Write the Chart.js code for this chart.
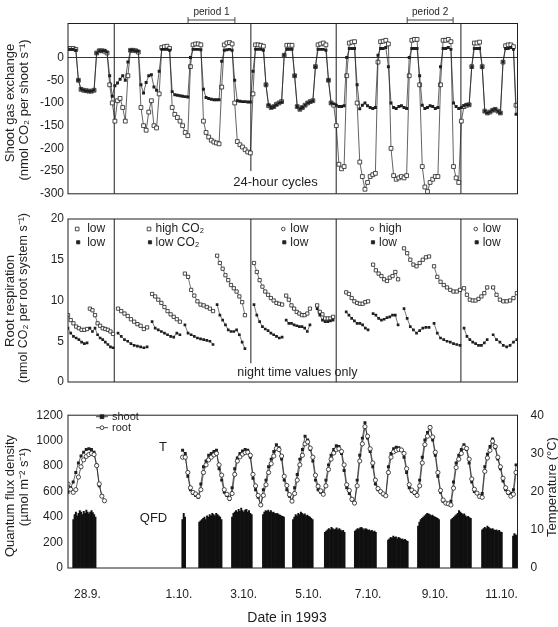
<!DOCTYPE html>
<html>
<head>
<meta charset="utf-8">
<script src="https://cdn.jsdelivr.net/npm/chart.js@4.4.1/dist/chart.umd.min.js"></script>
<style>
  html, body { margin: 0; padding: 0; background: #fff; }
  #wrap { position: relative; width: 558px; height: 627px; }
  #wrap canvas { position: absolute; left: 0; }
</style>
</head>
<body>
<div id="wrap">
  <canvas id="gas" width="558" height="205" style="top:0"></canvas>
  <canvas id="root" width="558" height="190" style="top:205px"></canvas>
  <canvas id="clim" width="558" height="232" style="top:395px"></canvas>
</div>
<script>
// time = days since 28.9. 0:00, readings every 2 hours (one row = one day)
const STEP = 1 / 12;

// shoot gas exchange, filled squares
const shootControl = [
  18, 18, 18, 16, -50, -70, -72, -73, -74, -74, -72, 10,
  15, 15, 15, 12, -40, -85, -62, -56, -48, -40, -50, -10,
  16, 16, 15, 14, -60, -78, -55, -40, -38, -65, -72, -30,
  18, 18, 18, 16, -75, -82, -83, -84, -85, -86, -87, 0,
  18, 18, 18, 17, -70, -88, -90, -92, -93, -93, -93, -8,
  16, 17, 18, 16, -50, -95, -96, -97, -97, -98, -98, -30,
  18, 18, 18, 16, -60, -105, -110, -108, -104, -100, -98, 5,
  18, 18, 18, -40, -108, -114, -110, -105, -100, -97, -95, -20,
  18, 18, 18, 16, -50, -100, -102, -105, -108, -108, -106, 0,
  20, 20, 20, -60, -113, -105, -100, -106, -110, -112, -110, 5,
  20, 20, 22, -20, -100, -110, -112, -108, -106, -110, -112, 0,
  20, 20, 20, -40, -105, -112, -110, -106, -108, -112, -110, -20,
  20, 20, 22, 18, -100, -108, -112, -110, -106, -104, -104, -20,
  20, 20, 20, -20, -118, -122, -120, -116, -114, -118, -122, -10,
  20, 20, 22, 18, -125
];

// shoot gas exchange, open squares
const shootTreat = [
  20, 20, 20, 18, -50, -70, -72, -73, -74, -74, -72, 10,
  15, 15, 14, 10, -60, -100, -140, -95, -90, -110, -140, -40,
  16, 16, 15, 12, -110, -150, -160, -120, -95, -150, -155, -80,
  22, 24, 25, 20, -110, -125, -132, -140, -150, -165, -172, -20,
  28, 30, 30, 28, -140, -165, -175, -182, -186, -188, -190, -65,
  28, 32, 33, 30, -100, -185, -192, -197, -203, -208, -210, -80,
  28, 28, 27, 25, -60, -106, -110, -108, -103, -100, -97, 5,
  27, 27, 27, -40, -108, -114, -110, -105, -100, -97, -95, -20,
  28, 30, 32, 28, -50, -100, -105, -150, -235, -245, -240, -40,
  32, 34, 35, -100, -230, -262, -290, -275, -262, -258, -255, -10,
  35, 36, 38, 30, -200, -260, -268, -265, -262, -265, -260, -40,
  38, 40, 40, -60, -240, -285, -295, -275, -268, -262, -262, -60,
  38, 38, 40, 35, -240, -265, -275, -140, -108, -105, -104, -20,
  32, 32, 34, -20, -118, -122, -120, -116, -114, -118, -122, -10,
  26, 28, 28, 24, -105
];

// temperature (°C), root = open circles, shoot = filled squares
const tempRoot = [
  22.0, 20.6, 19.8, 20.5, 23.8, 26.5, 28.3, 29.2, 29.7, 30.0, 29.7, 26.8,
  22.0, 18.8, 17.6, null, null, null, null, null, null, null, null, null,
  null, null, null, null, null, null, null, null, null, null, null, null,
  null, null, null, null, null, null, null, null, 29.0, 29.0, 25.0, 21.0,
  19.8, 19.4, 18.8, 20.5, 25.0, 27.0, 28.3, 29.0, 29.6, 30.0, 27.0, 24.3,
  20.5, 19.3, 18.2, 19.5, 24.5, 28.0, 29.1, 29.8, 30.2, 30.3, 29.5, 24.5,
  21.5, 19.0, 16.5, 19.0, 21.8, 25.0, 27.3, 29.3, 31.3, 31.0, 29.3, 24.0,
  21.6, 19.2, 17.5, 19.5, 23.0, 27.0, 29.5, 32.5, 33.0, 31.4, 29.0, 24.3,
  21.4, 20.2, 19.3, 21.5, 25.8, 28.5, 30.1, 31.0, 31.2, 30.5, 27.0, 21.8,
  20.3, 18.0, 17.0, 21.5, 28.0, 32.5, 37.0, 34.5, 31.2, 27.5, 23.0, 20.8,
  20.0, 19.4, 18.9, 25.0, 29.0, 30.4, 30.8, 31.0, 30.9, 30.0, 26.0, 21.8,
  20.4, 19.8, 19.0, 21.5, 27.5, 32.3, 34.5, 36.8, 34.3, 30.3, 25.0, 20.3,
  17.8, 17.0, 16.8, 16.5, 20.9, 26.3, 28.5, 30.0, 31.6, 31.3, 28.5, 23.3,
  20.6, 19.6, 18.7, 18.5, 25.3, 28.8, 30.8, 33.2, 31.8, 29.0, 26.5, 23.5,
  21.0, 19.8, 18.8, 19.3, 25.0
];
const tempShoot = [
  19.8, 21.0, 22.5, 25.0, 27.5, 29.3, 30.3, 31.0, 31.2, 31.0, 30.3, 27.0,
  21.5, 19.0, null, null, null, null, null, null, null, null, null, null,
  null, null, null, null, null, null, null, null, null, null, null, null,
  null, null, null, null, null, null, null, null, 30.8, 30.0, 24.0, 20.5,
  19.5, 19.0, 18.5, 22.0, 26.5, 28.0, 29.5, 30.0, 30.5, 30.8, 26.0, 23.0,
  19.8, 19.0, 18.0, 21.0, 26.0, 28.8, 30.0, 30.6, 31.0, 30.8, 29.0, 23.5,
  20.5, 18.5, 16.5, 20.5, 23.0, 26.5, 28.5, 30.5, 32.3, 31.5, 28.5, 23.0,
  20.5, 18.8, 17.5, 21.0, 24.5, 28.5, 31.0, 34.5, 33.5, 31.0, 28.0, 23.0,
  20.5, 19.8, 19.5, 23.0, 27.0, 29.5, 31.0, 32.0, 31.8, 30.0, 25.5, 21.0,
  19.5, 17.8, 17.0, 23.0, 29.5, 34.0, 38.0, 34.0, 30.5, 26.5, 22.0, 20.5,
  19.8, 19.2, 19.0, 26.5, 30.0, 31.2, 31.6, 31.5, 31.0, 29.0, 25.0, 21.0,
  20.0, 19.5, 19.0, 23.0, 29.0, 33.5, 35.5, 37.0, 33.5, 29.5, 24.0, 19.8,
  17.5, 17.0, 16.8, 17.5, 22.5, 27.5, 29.5, 31.0, 32.3, 31.0, 27.5, 22.5,
  20.0, 19.5, 18.8, 19.5, 26.5, 29.8, 31.8, 33.8, 31.5, 28.5, 26.0, 22.8,
  20.5, 19.5, 19.5, 20.5, 27.0
];

// root respiration, one night segment per row (start / end in days)
const rootSegStart = [0.00, 0.70, 1.60, 2.69, 3.74, 4.77, 5.95, 6.98, 7.97, 8.90, 9.76, 10.75, 11.71, 12.67, 13.60];
const rootSegEnd   = [0.61, 1.44, 2.53, 3.58, 4.64, 5.66, 6.85, 7.74, 8.48, 9.60, 10.56, 11.55, 12.54, 13.41, 14.36];
const rootHigh = [
  [8.2, 7.6, 7.2, 6.8, 6.6, 6.4, 6.4, 6.5],
  [9.0, 8.8, 8.2, 7.2, 6.9, 6.6, 6.5, 6.4, 6.2, 5.9],
  [9.0, 8.7, 8.4, 8.1, 7.7, 7.4, 7.1, 6.9, 6.5, 6.7],
  [10.8, 10.5, 10.1, 9.7, 9.2, 8.7, 8.3, 8.0, 7.7, 7.4],
  [13.3, 12.9, 11.3, 10.6, 9.9, 9.5, 9.4, 9.2, 9.0, 8.7],
  [15.5, 14.6, 13.9, 13.1, 12.5, 11.9, 11.5, 11.1, 10.5, 9.8, 8.2],
  [14.6, 13.5, 12.5, 11.7, 11.1, 10.7, 10.3, 10.0, 9.7, 9.6, 9.5],
  [10.6, 10.1, 9.4, 9.0, 8.6, 8.4, 8.2, 8.2, 8.4, 9.0],
  [9.4, 8.6, 8.3, 7.8, 7.8, 7.8, 8.0],
  [11.0, 10.8, 10.3, 9.9, 9.7, 9.6, 9.6, 9.8, 9.9],
  [14.4, 13.7, 13.3, 13.0, 12.6, 12.4, 12.8, 13.0, 13.5, 12.6],
  [16.4, 15.8, 15.0, 14.4, 14.2, 14.6, 15.0, 15.3, 15.4],
  [14.2, 12.9, 12.3, 11.9, 11.6, 11.3, 11.1, 11.1, 11.3],
  [11.5, 10.7, 10.1, 10.0, 10.0, 10.2, 10.5, 10.9, 11.6],
  [11.6, 10.7, 10.1, 9.9, 9.9, 10.0, 10.3, 10.9]
];
const rootLow = [
  [6.6, 6.0, 5.6, 5.4, 5.2, 4.9, 4.7, 4.8],
  [6.6, 6.2, 6.6, 5.8, 5.4, 5.2, 4.9, 4.6, 4.3, 4.2],
  [6.0, 5.6, 5.2, 5.0, 4.7, 4.5, 4.4, 4.3, 4.2, 4.3],
  [7.4, 6.6, 6.4, 6.2, 6.0, 5.8, 5.6, 5.5, 6.0, 5.8],
  [7.0, 6.0, 5.8, 5.6, 5.4, 5.3, 5.2, 5.1, 5.0, 4.6],
  [9.5, 8.2, 7.6, 7.0, 6.4, 6.2, 6.2, 6.4, 5.8, 4.9, 4.1],
  [9.5, 8.2, 7.4, 6.8, 6.5, 6.3, 6.0, 5.8, 5.6, 5.4, 5.5],
  [7.6, 7.2, 7.2, 7.0, 6.9, 6.8, 6.8, 6.6, 6.2, 7.0],
  [9.0, 8.2, 7.6, 7.4, 7.4, 7.5, 7.6],
  [8.6, 8.2, 7.8, 7.5, 7.2, 7.2, 7.0, 6.6, 6.4],
  [8.4, 8.2, 7.8, 7.6, 7.7, 7.9, 8.0, 8.2, 8.2, 7.0],
  [9.0, 7.8, 6.8, 6.4, 6.0, 6.3, 6.6, 6.7, 6.7],
  [7.2, 6.0, 5.4, 5.2, 5.0, 4.9, 4.7, 4.6, 4.5],
  [6.6, 5.6, 5.2, 4.9, 4.7, 4.5, 4.5, 4.8, 5.2],
  [5.8, 5.2, 4.9, 4.5, 4.3, 4.5, 4.9, 5.2]
];

// quantum flux density, hourly values for each light period
const qfdStart = [0.17, 3.66, 4.20, 5.25, 6.24, 7.20, 8.22, 9.18, 10.24, 11.20, 12.26, 13.25, 14.24];
const qfdValues = [
  [380, 420, 440, 410, 430, 450, 440, 420, 445, 430, 455, 440, 425, 440, 450, 435, 420, 400],
  [380, 430, 400],
  [360, 370, 380, 390, 400, 380, 410, 400, 420, 410, 430, 420, 410, 430, 420, 410, 400, 380],
  [400, 430, 440, 450, 440, 460, 445, 470, 450, 440, 455, 460, 440, 450, 430, 420],
  [420, 440, 450, 445, 455, 440, 450, 435, 440, 430, 425, 430, 420, 415, 410, 405, 400],
  [380, 400, 420, 410, 430, 420, 440, 430, 420, 425, 410, 415, 405, 400, 390, 380],
  [280, 290, 300, 310, 300, 320, 310, 300, 305, 315, 300, 310, 300, 290, 295, 280],
  [290, 300, 310, 305, 315, 320, 310, 300, 310, 305, 295, 300, 290, 295, 285, 290, 280],
  [220, 230, 240, 235, 250, 240, 245, 230, 240, 235, 225, 230, 220, 225, 215, 210],
  [330, 360, 380, 390, 400, 410, 420, 430, 425, 420, 410, 415, 405, 400, 395, 390, 380],
  [380, 390, 400, 410, 420, 430, 450, 440, 430, 420, 425, 410, 400, 405, 395, 390],
  [300, 310, 320, 310, 330, 320, 310, 305, 310, 300, 295, 300, 290, 295, 285, 280],
  [250, 270, 260, 255]
];

// treatment changes and marked periods
const separators = [1.48, 5.85, 8.58, 12.57];
const periodRanges = [[3.84, 5.34], [10.85, 12.32]];
const periodNames = ['period 1', 'period 2'];

const dateTicks = [0.62, 3.55, 5.62, 7.7, 9.6, 11.74, 13.87];
const dateLabels = ['28.9.', '1.10.', '3.10.', '5.10.', '7.10.', '9.10.', '11.10.'];

const INK = '#1f1f1f';
const FONT = '"Liberation Sans", Arial, sans-serif';
const X_MAX = 14.38;

const onGrid = vals => vals.map((v, i) => ({ x: i * STEP, y: v }));

function nightSegments(rows) {
  const pts = [];
  rows.forEach((vals, s) => {
    const a = rootSegStart[s], b = rootSegEnd[s];
    vals.forEach((v, k) => pts.push({ x: a + (b - a) * k / (vals.length - 1), y: v }));
    pts.push({ x: b + 0.02, y: null });
  });
  return pts;
}

function hourly(starts, rows) {
  const pts = [];
  rows.forEach((vals, p) => vals.forEach((v, k) => pts.push({ x: starts[p] + k / 24, y: v })));
  return pts;
}

// vertical lines at treatment changes; the one at index 1 stops short of the note text
function sepLines(lo, hi, cut) {
  const pts = [];
  separators.forEach((s, i) => {
    pts.push({ x: s, y: i === 1 ? cut : lo }, { x: s, y: hi }, { x: s, y: null });
  });
  return pts;
}

function label(ctx, str, x, y, size, rot, align) {
  ctx.save();
  ctx.translate(x, y);
  if (rot) ctx.rotate(rot);
  ctx.font = size + 'px ' + FONT;
  ctx.fillStyle = INK;
  ctx.textAlign = align || 'center';
  ctx.textBaseline = 'middle';
  ctx.fillText(str, 0, 0);
  ctx.restore();
}

function marker(ctx, x, y, side, filled, round) {
  ctx.save();
  ctx.strokeStyle = INK;
  ctx.fillStyle = filled ? INK : '#fff';
  ctx.lineWidth = 0.8;
  ctx.beginPath();
  if (round) ctx.arc(x, y, side / 2, 0, Math.PI * 2);
  else ctx.rect(x - side / 2, y - side / 2, side, side);
  ctx.fill();
  ctx.stroke();
  ctx.restore();
}

Chart.register({
  id: 'frame',
  afterDatasetsDraw(chart) {
    const { ctx, chartArea: a } = chart;
    ctx.save();
    ctx.strokeStyle = INK;
    ctx.lineWidth = 1;
    ctx.strokeRect(a.left, a.top, a.right - a.left, a.bottom - a.top);
    ctx.restore();
  }
});

const tickFont = { family: FONT, size: 12 };
const plain = v => String(v);

function timeAxis(extra) {
  return Object.assign({
    type: 'linear', min: 0, max: X_MAX, offset: false, display: false,
    grid: { display: false, offset: false }
  }, extra);
}

function leftAxis(min, max, step, extra) {
  return Object.assign({
    min, max,
    ticks: { stepSize: step, padding: 4, font: tickFont, color: INK, callback: plain },
    grid: { display: false, drawTicks: false },
    border: { display: false },
    afterFit: s => { s.width = 68; }
  }, extra);
}

function base(padding) {
  return {
    responsive: false,
    animation: false,
    devicePixelRatio: 1,
    events: [],
    layout: { padding },
    plugins: { legend: { display: false }, tooltip: { enabled: false } }
  };
}

const lineStyle = { borderColor: INK, borderWidth: 0.7, tension: 0, spanGaps: false, pointBorderColor: INK };
const sepStyle = { borderColor: INK, borderWidth: 1, pointRadius: 0, spanGaps: false };
const TITLE = 13;

// ---------- shoot gas exchange ----------
new Chart(document.getElementById('gas'), {
  type: 'line',
  data: {
    datasets: [
      Object.assign({ data: onGrid(shootControl), pointStyle: 'rect', pointRadius: 2.1,
        pointBackgroundColor: INK, pointBorderWidth: 0 }, lineStyle),
      Object.assign({ data: onGrid(shootTreat), pointStyle: 'rect', pointRadius: 2.7,
        pointBackgroundColor: '#fff', pointBorderWidth: 0.8 }, lineStyle),
      Object.assign({ data: sepLines(-300, 75, -250) }, sepStyle)
    ]
  },
  options: Object.assign(base({ top: 23.5, bottom: 9, left: 0, right: 40.5 }), {
    scales: {
      x: timeAxis(),
      y: leftAxis(-300, 75, 50, {
        afterBuildTicks: s => { s.ticks = s.ticks.filter(t => t.value % 50 === 0); },
        grid: {
          drawTicks: false, lineWidth: 0.9,
          color: c => (c.tick && c.tick.value === 0) ? INK : 'rgba(0,0,0,0)'
        }
      })
    }
  }),
  plugins: [{
    id: 'gasNotes',
    afterDraw(chart) {
      const { ctx, scales: { x, y } } = chart;
      periodRanges.forEach(([t0, t1], i) => {
        const x0 = x.getPixelForValue(t0), x1 = x.getPixelForValue(t1);
        ctx.save();
        ctx.strokeStyle = INK;
        ctx.lineWidth = 0.8;
        ctx.beginPath();
        ctx.moveTo(x0, 20); ctx.lineTo(x1, 20);
        ctx.moveTo(x0, 17); ctx.lineTo(x0, 23);
        ctx.moveTo(x1, 17); ctx.lineTo(x1, 23);
        ctx.stroke();
        ctx.restore();
        label(ctx, periodNames[i], (x0 + x1) / 2, 12.5, 10);
      });
      label(ctx, '24-hour cycles', x.getPixelForValue(6.64), y.getPixelForValue(-276), 13);
      label(ctx, 'Shoot gas exchange', 10, 103, TITLE, -Math.PI / 2);
      label(ctx, '(nmol CO\u2082 per shoot s\u207B\u00B9)', 24, 110, TITLE, -Math.PI / 2);
    }
  }]
});

// ---------- root respiration ----------
new Chart(document.getElementById('root'), {
  type: 'line',
  data: {
    datasets: [
      Object.assign({ data: nightSegments(rootLow), pointStyle: 'rect', pointRadius: 1.9,
        pointBackgroundColor: INK, pointBorderWidth: 0 }, lineStyle, { borderWidth: 0.6 }),
      Object.assign({ data: nightSegments(rootHigh), pointStyle: 'rect', pointRadius: 2.3,
        pointBackgroundColor: '#fff', pointBorderWidth: 0.8 }, lineStyle, { borderWidth: 0.6 }),
      Object.assign({ data: sepLines(0, 20, 2.3) }, sepStyle)
    ]
  },
  options: Object.assign(base({ top: 14, bottom: 13, left: 0, right: 40.5 }), {
    scales: { x: timeAxis(), y: leftAxis(0, 20, 5) }
  }),
  plugins: [{
    id: 'rootNotes',
    afterDraw(chart) {
      const { ctx, scales: { x, y } } = chart;
      const keys = [
        [77.2, 10, 'low', 'low', false],
        [149, 6.5, 'high CO\u2082', 'low CO\u2082', false],
        [283.3, 7, 'low', 'low', true],
        [372, 7, 'high', 'low', true],
        [475.7, 7, 'low', 'low', true]
      ];
      keys.forEach(([mx, gap, hi, lo, round]) => {
        marker(ctx, mx, 24, 3.6, false, round);
        marker(ctx, mx + 1, 37.3, 3.2, true, false);
        label(ctx, hi, mx + gap, 24, 12, 0, 'left');
        label(ctx, lo, mx + gap, 37.5, 12, 0, 'left');
      });
      label(ctx, 'night time values only', x.getPixelForValue(7.34), y.getPixelForValue(1.1), 12.5);
      label(ctx, 'Root respiration', 10, 96, TITLE, -Math.PI / 2);
      label(ctx, '(nmol CO\u2082 per root system s\u207B\u00B9)', 24, 93, 12.5, -Math.PI / 2);
    }
  }]
});

// ---------- light and temperature ----------
new Chart(document.getElementById('clim'), {
  type: 'line',
  data: {
    datasets: [
      Object.assign({ data: onGrid(tempRoot), yAxisID: 'y1', pointStyle: 'circle', pointRadius: 2.1,
        pointBackgroundColor: '#fff', pointBorderWidth: 0.8, order: 1 }, lineStyle),
      Object.assign({ data: onGrid(tempShoot), yAxisID: 'y1', pointStyle: 'rect', pointRadius: 2.1,
        pointBackgroundColor: INK, pointBorderWidth: 0, order: 2 }, lineStyle),
      { type: 'bar', data: hourly(qfdStart, qfdValues), yAxisID: 'y', backgroundColor: '#101010',
        barPercentage: 1, categoryPercentage: 1, order: 3 }
    ]
  },
  options: Object.assign(base({ top: 11, bottom: 0, left: 0, right: 0 }), {
    scales: {
      x: timeAxis({
        display: true,
        afterBuildTicks: s => { s.ticks = dateTicks.map(v => ({ value: v })); },
        ticks: { autoSkip: false, maxRotation: 0, padding: 11, font: tickFont, color: INK,
          callback: (v, i) => dateLabels[i] },
        border: { display: false },
        afterFit: s => { s.height = 59; }
      }),
      y: leftAxis(0, 1200, 200, {
        ticks: { stepSize: 200, padding: 5, font: tickFont, color: INK, callback: plain }
      }),
      y1: {
        position: 'right', min: 0, max: 40,
        ticks: { stepSize: 10, padding: 13, font: tickFont, color: INK, callback: plain },
        grid: { display: false, drawTicks: false },
        border: { display: false },
        afterFit: s => { s.width = 40.5; }
      }
    }
  }),
  plugins: [{
    id: 'climNotes',
    afterDraw(chart) {
      const { ctx } = chart;
      [[21.7, 'shoot', true], [32.7, 'root', false]].forEach(([yy, name, filled]) => {
        ctx.save();
        ctx.strokeStyle = INK;
        ctx.lineWidth = 0.8;
        ctx.beginPath();
        ctx.moveTo(96, yy); ctx.lineTo(108, yy);
        ctx.stroke();
        ctx.restore();
        marker(ctx, 102, yy, 3.8, filled, !filled);
        label(ctx, name, 112, yy, 11, 0, 'left');
      });
      label(ctx, 'T', 163, 52, 13);
      label(ctx, 'QFD', 153.5, 123, 13);
      label(ctx, 'Quantum flux density', 10, 101, TITLE, -Math.PI / 2);
      label(ctx, '(\u00B5mol m\u207B\u00B2 s\u207B\u00B9)', 24, 92, TITLE, -Math.PI / 2);
      label(ctx, 'Temperature (\u00B0C)', 552, 92, TITLE, -Math.PI / 2);
      label(ctx, 'Date in 1993', 287, 223, 14);
    }
  }]
});
</script>
</body>
</html>
